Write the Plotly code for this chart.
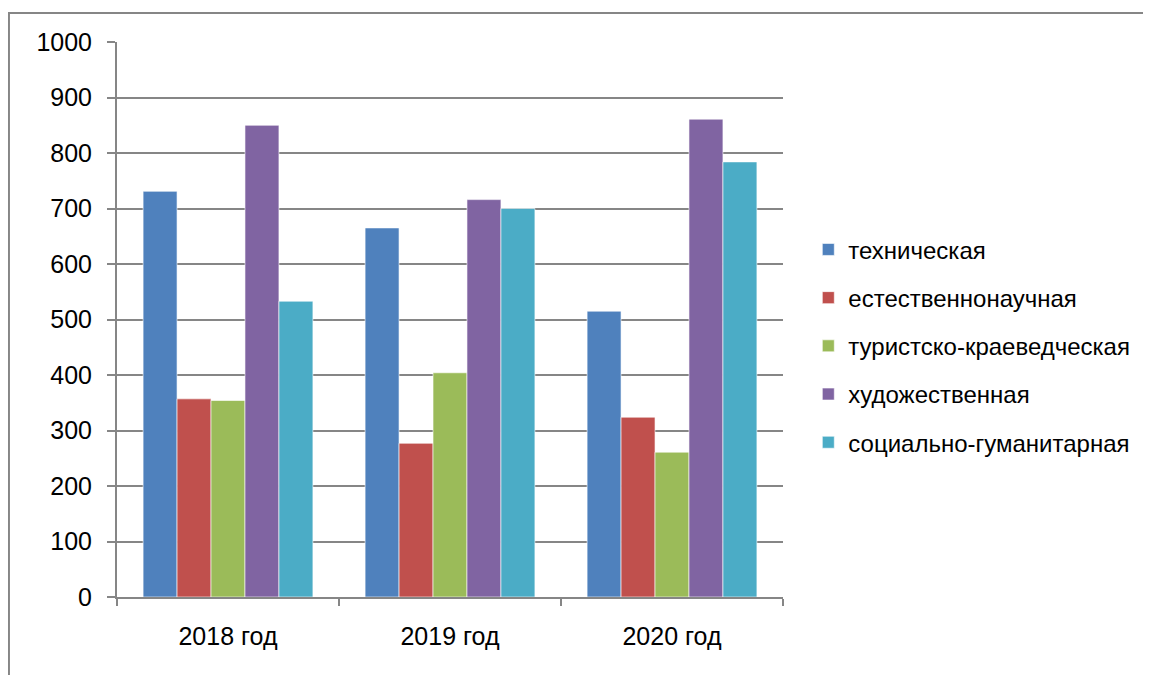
import plotly.graph_objects as go

categories = ["2018 год", "2019 год", "2020 год"]
series_names = ["техническая", "естественнонаучная", "туристско-краеведческая",
                "художественная", "социально-гуманитарная"]
tech = [731, 665, 515]
nat = [357, 277, 324]
tour = [354, 404, 261]
art = [850, 716, 861]
soc = [533, 700, 784]
colors = ["#4F81BD", "#C0504D", "#9BBB59", "#8064A2", "#4BACC6"]
y_ticks = [0, 100, 200, 300, 400, 500, 600, 700, 800, 900, 1000]

FONT = "'Liberation Sans Narrow', 'Arial Narrow', 'Liberation Sans', sans-serif"

fig = go.Figure()
for i, (name, vals) in enumerate(zip(series_names, [tech, nat, tour, art, soc])):
    fig.add_trace(go.Bar(
        x=categories, y=vals, name=name, legendgroup=str(i),
        marker=dict(color=colors[i], line=dict(color="rgba(255,255,255,0.6)", width=1)),
    ))

# page body has an 8px margin, so compensate to place things in window coords
OFF = 8
W, H = 1151, 675
PL, PR, PT, PB = 117, 782.7, 42, 597.3   # plot area in window pixels
L = PL - OFF
T = PT - OFF
R = W - (PR - OFF)
B = H - (PB - OFF)
pw = W - L - R
ph = H - T - B

fig.update_layout(
    width=W, height=H,
    margin=dict(l=L, r=R, t=T, b=B, autoexpand=False),
    paper_bgcolor="white", plot_bgcolor="white",
    barmode="group", bargap=0.235, bargroupgap=0,
    font=dict(family=FONT, color="#000000"),
    legend=dict(x=(808 - OFF - L) / pw, y=(PB - 346) / ph, xanchor="left", yanchor="middle",
                font=dict(size=24, family=FONT), tracegroupgap=14, itemwidth=30,
                bgcolor="rgba(0,0,0,0)"),
    showlegend=True,
    shapes=[dict(type="rect", xref="paper", yref="paper",
                 x0=(9 - PL) / pw, x1=(W + 40 - PL) / pw,
                 y0=-(H + 40 - PB) / ph, y1=(PB - 13) / ph,
                 line=dict(color="#868686", width=2), layer="below")],
)
fig.update_xaxes(
    showline=True, linecolor="#868686", linewidth=2,
    ticks="outside", tickson="boundaries", ticklen=7, tickcolor="#868686", tickwidth=2,
    tickfont=dict(size=25, family=FONT), showgrid=False, zeroline=False,
    ticklabelstandoff=16,
)
fig.update_yaxes(
    range=[0, 1000], tickvals=y_ticks, ticktext=[str(v) for v in y_ticks],
    showline=True, linecolor="#868686", linewidth=2,
    ticks="outside", ticklen=8, tickcolor="#868686", tickwidth=2,
    showgrid=True, gridcolor="#868686", gridwidth=2, zeroline=False,
    tickfont=dict(size=25, family=FONT), ticklabelstandoff=10,
)
fig.write_html("out.html")
